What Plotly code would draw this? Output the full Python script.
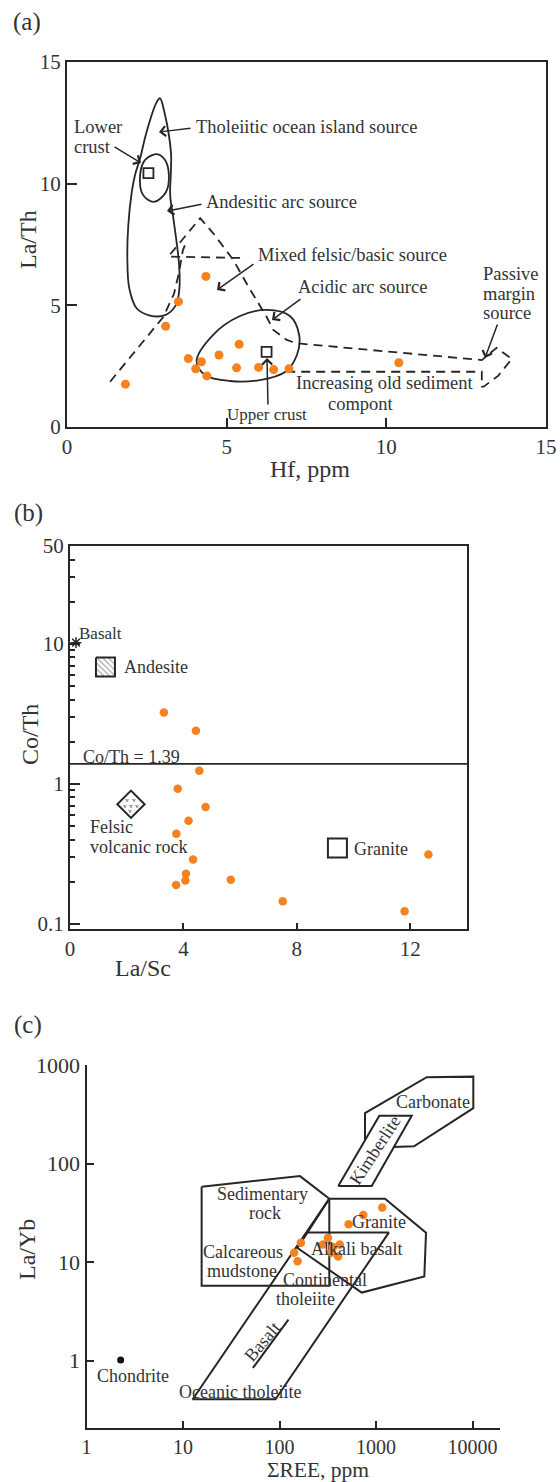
import math
import plotly.graph_objects as go

W, H = 560, 1482
FONT = "Liberation Serif, Times New Roman, serif"
TXT = "#333333"
INK = "#262626"
ORANGE = "#F5821F"

# ---------------- (a) La/Th vs Hf ----------------
a_hf = [1.83, 3.09, 3.49, 4.35, 3.80, 4.03, 4.21, 4.38, 4.76, 5.31, 5.39, 6.00, 6.47, 6.95, 10.39]
a_lath = [1.76, 4.14, 5.15, 6.19, 2.81, 2.39, 2.68, 2.10, 2.96, 2.43, 3.40, 2.45, 2.36, 2.39, 2.64]
a_lower_crust = (2.55, 10.43)
a_upper_crust = (6.25, 3.09)

# outline of tholeiitic ocean island + andesitic arc fields
a_arc_x = [2.91, 3.07, 3.19, 3.26, 3.25, 3.23, 3.33, 3.43, 3.51, 3.52, 3.41, 3.07, 2.60, 2.18,
           1.95, 1.89, 1.92, 2.03, 2.13, 2.29, 2.44, 2.62, 2.79, 2.91]
a_arc_y = [13.51, 12.82, 12.0, 11.18, 10.36, 9.54, 8.58, 7.62, 6.66, 5.70, 5.01, 4.60, 4.58, 4.88,
           5.70, 6.93, 8.30, 9.67, 10.36, 11.04, 11.87, 12.69, 13.30, 13.51]
a_small_x = [2.81, 3.07, 3.19, 3.10, 2.72, 2.38, 2.29, 2.44, 2.81]
a_small_y = [11.21, 10.97, 10.36, 9.66, 9.25, 9.54, 10.36, 10.97, 11.21]
a_acid_x = [4.06, 4.57, 5.42, 6.26, 6.98, 7.27, 7.20, 6.83, 6.04, 5.10, 4.32, 4.06]
a_acid_y = [2.71, 3.78, 4.56, 4.81, 4.56, 3.78, 2.96, 2.26, 1.93, 1.89, 2.14, 2.71]
a_mix_x = [1.35, 3.02, 3.35, 3.51, 3.63, 3.76]
a_mix_y = [1.86, 4.53, 5.47, 6.37, 7.27, 7.68]
a_pass_x = [5.42, 3.17, 4.17, 4.58, 5.21, 5.68, 6.25, 6.46, 6.88, 7.19, 12.99, 13.45, 13.93,
            13.50, 13.05, 12.99, 12.99, 6.95]
a_pass_y = [6.95, 7.00, 8.58, 7.96, 6.86, 5.77, 4.53, 3.99, 3.58, 3.44, 2.75, 3.25, 2.80,
            2.10, 1.66, 1.66, 2.27, 2.27]

# ---------------- (b) Co/Th vs La/Sc ----------------
b_lasc = [3.31, 4.44, 4.56, 3.80, 4.78, 4.18, 3.75, 4.34, 4.09, 4.07, 3.74, 5.67, 7.50, 11.80, 12.64]
b_coth = [3.24, 2.40, 1.24, 0.925, 0.684, 0.546, 0.44, 0.289, 0.228, 0.204, 0.19, 0.207, 0.145, 0.123, 0.313]
b_basalt = (0.21, 10.2)
b_andesite = (1.25, 6.84)
b_felsic = (2.15, 0.716)
b_granite = (9.43, 0.349)
b_coth_ref = 1.39

# ---------------- (c) La/Yb vs REE ----------------
c_ree = [141.6, 153.8, 166.6, 281.6, 317.7, 344.5, 404.9, 421.5, 358.0, 520.0, 738.0, 1161.0]
c_layb = [12.4, 10.2, 15.7, 15.1, 17.6, 12.4, 11.4, 15.1, 14.2, 24.2, 30.0, 35.7]
c_chondrite = (2.26, 1.016)
c_carb_x = [769, 769, 3352, 10190, 10190, 2477, 1511]
c_carb_y = [174.7, 325, 751, 762, 365, 149.6, 147.5]
c_kimb_x = [406.5, 1082, 2344, 902, 406.5]
c_kimb_y = [59, 305, 305, 59, 59]
c_sed_x = [15.6, 163, 328, 328, 15.6, 15.6]
c_sed_y = [58.2, 74.5, 44, 5.74, 5.74, 58.2]
c_gran_x = [328, 1240, 3297, 3166, 711, 153.7]
c_gran_y = [44, 44, 19.9, 7.14, 4.90, 13.9]
c_band_x = [328, 12.6, 90.9, 1357, 195]
c_band_y = [44, 0.405, 0.405, 19.9, 19.9]
c_basalt_x = [53.0, 123.7]
c_basalt_y = [0.842, 2.61]

# ---------------- layout geometry (pixels) ----------------
A_X, A_Y = (67, 546), (62, 427)
B_X, B_Y = (70, 467), (546, 929)
C_X, C_Y = (86.5, 500.3), (1065, 1428)
B_YR = [math.log10(0.092), math.log10(50)]
C_XR = [0, math.log10(19400)]
C_YR = [math.log10(0.207), 3]


def dx(p):
    return [p[0] / W, p[1] / W]


def dy(p):
    return [1 - p[1] / H, 1 - p[0] / H]


fig = go.Figure()


def line(x, y, xa, ya, dash=None, width=1.8, shape="linear"):
    fig.add_trace(go.Scatter(x=x, y=y, mode="lines", xaxis=xa, yaxis=ya, hoverinfo="skip",
                             line=dict(color=INK, width=width, dash=dash, shape=shape)))


def pts(x, y, xa, ya, size=9, color=ORANGE, symbol="circle", lw=0):
    fig.add_trace(go.Scatter(x=x, y=y, mode="markers", xaxis=xa, yaxis=ya,
                             marker=dict(size=size, color=color, symbol=symbol,
                                         line=dict(width=lw, color=INK))))


# (a)
DASH = "9px,6px"
line(a_arc_x, a_arc_y, "x", "y", shape="spline")
line(a_small_x, a_small_y, "x", "y", shape="spline")
line(a_acid_x, a_acid_y, "x", "y", shape="spline")
line(a_mix_x, a_mix_y, "x", "y", dash=DASH)
line(a_pass_x, a_pass_y, "x", "y", dash=DASH)
pts(a_hf, a_lath, "x", "y", size=9)
pts([a_lower_crust[0], a_upper_crust[0]], [a_lower_crust[1], a_upper_crust[1]], "x", "y",
    size=10, color=INK, symbol="square-open", lw=1.8)

# (b)
bx_px = (B_X[1] - B_X[0]) / 14.0
by_px = (B_Y[1] - B_Y[0]) / (B_YR[1] - B_YR[0])


def boff(c, dxp, dyp):
    return c[0] + dxp / bx_px, c[1] * 10 ** (-dyp / by_px)


fig.add_trace(go.Scatter(x=[0, 14], y=[b_coth_ref, b_coth_ref], mode="lines", xaxis="x2", yaxis="y2",
                         line=dict(color=INK, width=1.8), hoverinfo="skip"))
sq = [boff(b_andesite, ox, oy) for ox, oy in [(-9.5, -9.5), (9.5, -9.5), (9.5, 9.5), (-9.5, 9.5), (-9.5, -9.5)]]
fig.add_trace(go.Scatter(x=[p[0] for p in sq], y=[p[1] for p in sq], mode="lines", fill="toself",
                         xaxis="x2", yaxis="y2", line=dict(color=INK, width=2), fillcolor="white",
                         fillpattern=dict(shape="\\", size=4, solidity=0.25, fgcolor=INK, bgcolor="white"),
                         hoverinfo="skip"))
pts([b_basalt[0]], [b_basalt[1]], "x2", "y2", size=9, color=INK, symbol="asterisk-open", lw=1.5)
pts([b_felsic[0]], [b_felsic[1]], "x2", "y2", size=21, color=INK, symbol="diamond-open", lw=2)
pts([b_granite[0]], [b_granite[1]], "x2", "y2", size=19, color=INK, symbol="square-open", lw=2)
vv = [boff(b_felsic, ox, oy) for ox, oy in [(-4, -4), (3, -4), (-6, 2), (0, 2), (6, 2), (-1, 7)]]
fig.add_trace(go.Scatter(x=[p[0] for p in vv], y=[p[1] for p in vv], mode="text", text=["v"] * len(vv),
                         xaxis="x2", yaxis="y2", textfont=dict(family=FONT, size=7, color=INK),
                         hoverinfo="skip"))
pts(b_lasc, b_coth, "x2", "y2", size=8.5)

# (c)
line(c_carb_x, c_carb_y, "x3", "y3", width=2)
line(c_kimb_x, c_kimb_y, "x3", "y3", width=2)
line(c_sed_x, c_sed_y, "x3", "y3", width=2)
line(c_gran_x + [c_gran_x[0]], c_gran_y + [c_gran_y[0]], "x3", "y3", width=2)
line(c_band_x, c_band_y, "x3", "y3", width=2)
line(c_basalt_x, c_basalt_y, "x3", "y3", width=2)
pts([c_chondrite[0]], [c_chondrite[1]], "x3", "y3", size=7, color="#111111")
pts(c_ree, c_layb, "x3", "y3", size=8.5)

# ---------------- axes ----------------
base = dict(showline=True, linewidth=2, linecolor=INK, ticks="inside", tickcolor=INK, tickwidth=2,
            showgrid=False, zeroline=False, automargin=False,
            tickfont=dict(family=FONT, size=21, color=TXT))
fig.update_layout(
    xaxis=dict(base, domain=dx(A_X), range=[0, 15], tickvals=[0, 5, 10, 15], ticklen=9, mirror=True, anchor="y"),
    yaxis=dict(base, domain=dy(A_Y), range=[0, 15], tickvals=[0, 5, 10, 15], ticklen=10, mirror=True, anchor="x"),
    xaxis2=dict(base, domain=dx(B_X), range=[0, 14], tickvals=[0, 4, 8, 12], ticklen=6, mirror=True, anchor="y2"),
    yaxis2=dict(base, domain=dy(B_Y), type="log", range=B_YR, tickvals=[0.1, 1, 10, 50],
                ticktext=["0.1", "1", "10", "50"], ticklen=10, mirror=True, anchor="x2",
                minor=dict(tickmode="array",
                           tickvals=[0.2, 0.3, 0.4, 0.5, 0.6, 0.7, 0.8, 0.9, 2, 3, 4, 5, 6, 7, 8, 9, 20, 30, 40],
                           ticks="inside", ticklen=5, tickwidth=1.5, tickcolor=INK, showgrid=False)),
    xaxis3=dict(base, domain=dx(C_X), type="log", range=C_XR, tickvals=[1, 10, 100, 1000, 10000],
                ticktext=["1", "10", "100", "1000", "10000"], ticklen=7, anchor="y3",
                tickfont=dict(family=FONT, size=20, color=TXT)),
    yaxis3=dict(base, domain=dy(C_Y), type="log", range=C_YR, tickvals=[1, 10, 100, 1000],
                ticktext=["1", "10", "100", "1000"], ticklen=7, anchor="x3",
                tickfont=dict(family=FONT, size=22, color=TXT)),
)

# ---------------- text ----------------
ann = []


def P(px, py):
    return px / W, 1 - py / H


def label(text, px, py, size=18, xanchor="left", angle=0, yanchor="middle"):
    x, y = P(px, py)
    ann.append(dict(text=text, x=x, y=y, xref="paper", yref="paper", xanchor=xanchor, yanchor=yanchor,
                    showarrow=False, textangle=angle, borderpad=0,
                    font=dict(family=FONT, size=size, color=TXT)))


def arrow(tx, ty, hx, hy):
    x, y = P(hx, hy)
    ann.append(dict(text="", x=x, y=y, xref="paper", yref="paper", ax=tx - hx, ay=ty - hy,
                    axref="pixel", ayref="pixel", showarrow=True, arrowhead=4, arrowsize=1.3,
                    arrowwidth=1.5, arrowcolor=INK))


# panel letters & axis titles
label("(a)", 27, 22, size=25, xanchor="center")
label("(b)", 28, 513, size=25, xanchor="center")
label("(c)", 28, 1025, size=25, xanchor="center")
label("Hf, ppm", 310, 469, size=24, xanchor="center")
label("La/Th", 28, 240, size=24, xanchor="center", angle=-90)
label("La/Sc", 143, 968, size=24, xanchor="center")
label("Co/Th", 30, 735, size=24, xanchor="center", angle=-90)
label("ΣREE, ppm", 318, 1483, size=21.5, xanchor="center", yanchor="bottom")
label("La/Yb", 27, 1250, size=24, xanchor="center", angle=-90)

# (a) annotations
label("Lower", 73, 127, size=18.5)
label("crust", 73, 147, size=18.5)
label("Tholeiitic ocean island source", 195, 127, size=18.5)
label("Andesitic arc source", 205, 202, size=18.5)
label("Mixed felsic/basic source", 257, 255, size=18.5)
label("Acidic arc source", 297, 287, size=18.5)
label("Passive", 482, 274, size=18.5)
label("margin", 482, 294, size=18.5)
label("source", 482, 313, size=18.5)
label("Increasing old sediment", 295, 383, size=18.5)
label("compont", 327, 404, size=18.5)
label("Upper crust", 226, 414, size=17)
arrow(113, 146, 141, 163)
arrow(192, 128, 159, 132)
arrow(203, 204, 167, 211)
arrow(255, 263, 217, 290)
arrow(302, 298, 272, 320)
arrow(498, 323, 485, 358)
arrow(268, 406, 267, 358)

# (b) annotations
label("Basalt", 78, 634, size=17)
label("Andesite", 123, 667)
label("Co/Th = 1.39", 82, 757)
label("Felsic", 89, 827)
label("volcanic rock", 89, 847)
label("Granite", 353, 849)

# (c) annotations
label("Carbonate", 433, 1102, xanchor="center")
label("Kimberlite", 375, 1150, xanchor="center", angle=-57)
label("Sedimentary", 262, 1194, xanchor="center")
label("rock", 265, 1213, xanchor="center")
label("Granite", 379, 1222, xanchor="center")
label("Alkali basalt", 356, 1249, xanchor="center")
label("Calcareous", 243, 1252, xanchor="center")
label("mudstone", 242, 1271, xanchor="center")
label("Continental", 325, 1280, xanchor="center")
label("tholeiite", 306, 1299, xanchor="center")
label("Basalt", 262, 1342, xanchor="center", angle=-50)
label("Chondrite", 133, 1376, xanchor="center")
label("Oceanic tholeiite", 240, 1392, xanchor="center")

fig.update_layout(annotations=ann, width=W, height=H, margin=dict(l=0, r=0, t=0, b=0),
                  paper_bgcolor="white", plot_bgcolor="white", showlegend=False,
                  font=dict(family=FONT, color=TXT))
fig.write_html("out.html", config={"displayModeBar": False},
               post_script="document.documentElement.style.margin='0';document.body.style.margin='0';"
                           "document.body.style.padding='0';document.body.style.overflow='hidden';")
